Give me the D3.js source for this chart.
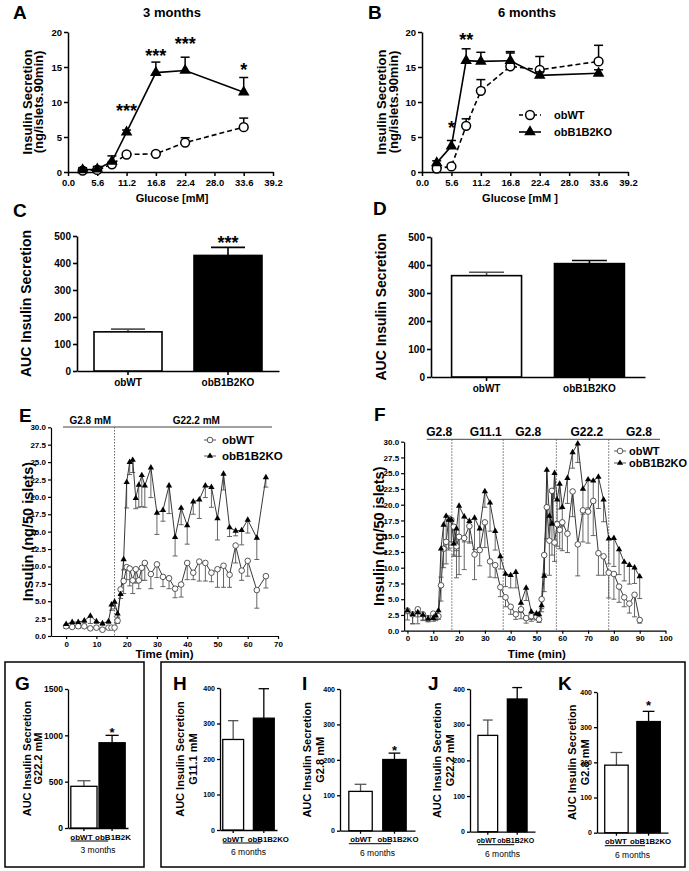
<!DOCTYPE html>
<html><head><meta charset="utf-8">
<script src="https://cdn.jsdelivr.net/npm/d3@7"></script>
<style>body{margin:0;background:#fff}svg{display:block}</style>
</head><body>
<svg id="c" width="689" height="871"></svg>
<script>
// ---------------- DATA ----------------
const glucose = [2.8, 5.6, 8.4, 11.2, 16.8, 22.4, 33.6];
const glucoseTicks = [0, 5.6, 11.2, 16.8, 22.4, 28.0, 33.6, 39.2];
const insulinTicks = [0, 5, 10, 15, 20];

const a_wt    = [0.2, 0.3, 1.1, 2.5, 2.6, 4.2, 6.4];
const a_wtErr = [0.2, 0.2, 0.3, 0.2, 0.2, 0.7, 1.3];
const a_ko    = [0.3, 0.4, 1.5, 5.7, 14.2, 14.5, 11.4];
const a_koErr = [0.3, 0.4, 0.8, 0.3, 1.5, 1.9, 2.1];
const a_starX = [11.2, 16.8, 22.4, 33.6];
const a_starLevel = [9.3, 17.2, 18.8, 15.1];
const a_starText = ["***", "***", "***", "*"];

const b_wt    = [0.5, 0.8, 6.6, 11.6, 15.1, 14.6, 15.8];
const b_wtErr = [0.2, 0.2, 1.0, 1.6, 1.9, 1.9, 2.3];
const b_ko    = [1.3, 3.7, 15.9, 15.8, 15.9, 13.8, 14.1];
const b_koErr = [0.3, 0.8, 1.7, 1.3, 1.3, 0.5, 0.5];
const b_starX = [5.6, 8.4];
const b_starLevel = [6.9, 19.4];
const b_starText = ["*", "**"];

const groups = ["obWT", "obB1B2KO"];
const aucTicks = [0, 100, 200, 300, 400, 500];
const c_auc = [145, 428]; const c_err = [10, 30];
const d_auc = [362, 405]; const d_err = [12, 11];

const e_time  = [0,2,4,6,8,10,12,14,15,16,17,18,19,20,21,22,23,24,25,26,28,30,32,34,36,38,40,42,44,46,48,50,52,54,56,58,60,63,66];
const e_ko    = [1.7,2.0,2.0,2.2,2.9,2.1,1.8,2.1,4.5,4.9,3.2,6.0,11.0,22.1,25.0,25.3,19.8,21.7,23.1,21.6,24.2,17.7,18.1,21.6,14.2,18.4,15.9,19.3,19.6,21.6,21.4,16.9,23.3,15.6,15.1,15.2,16.7,14.1,22.8];
const e_koErr = [0.3,0.3,0.3,0.3,1.1,0.3,0.3,0.3,0.8,1.0,0.5,0.6,1.5,3.7,1.8,1.8,1.5,3.2,4.5,3.1,4.3,3.1,1.6,4.0,2.7,2.4,2.7,1.8,2.7,1.7,2.9,3.1,2.3,1.3,0.7,2.1,1.9,3.1,1.4];
const e_wt    = [1.4,1.3,1.4,1.4,1.1,1.2,0.9,1.2,1.2,1.2,2.2,6.7,7.9,9.9,9.7,8.0,9.6,8.0,9.8,10.5,8.9,10.3,8.5,8.3,6.8,7.4,10.5,9.1,10.7,10.5,9.1,9.6,10.1,8.8,13.0,9.4,10.8,6.6,8.6];
const e_wtErr = [0.3,0.2,0.3,0.2,0.2,0.2,0.2,0.2,0.2,0.2,0.4,0.7,1.8,1.8,2.5,1.9,2.0,1.2,1.8,2.5,2.1,1.9,1.4,1.5,1.3,1.8,2.4,1.0,2.8,2.6,1.3,2.6,3.1,1.8,2.5,1.4,2.2,2.6,1.7];
const e_timeTicks = [0,10,20,30,40,50,60,70];
const e_switch = [16];
const e_phases = ["G2.8 mM", "G22.2 mM"];
const e_phaseMid = [8, 43];

const f_time  = [0,2,4,6,8,10,11,12,13,14,15,16,17,18,19,20,22,24,26,28,30,32,34,36,38,40,42,44,46,48,50,51,52,53,54,55,56,57,58,59,60,62,64,66,68,70,72,74,76,78,80,82,84,86,88,90];
const f_ko    = [3.2,2.6,2.9,2.5,1.9,2.0,2.4,3.2,13.0,16.8,18.2,17.6,17.6,13.8,16.2,19.8,18.1,17.4,17.9,16.2,22.1,20.3,15.8,11.8,9.0,8.8,9.3,4.4,6.8,3.0,2.7,2.6,4.0,8.7,25.5,18.2,17.0,25.0,20.8,23.3,19.6,24.2,28.3,29.7,22.5,24.0,23.8,24.4,20.8,14.6,14.7,12.9,10.9,10.4,10.0,8.6];
const f_koErr = [0.5,1.5,1.8,0.8,0.5,0.5,0.8,1.0,4.5,3.5,4.0,4.5,3.5,2.0,3.5,8.0,4.0,3.5,5.0,3.0,2.5,4.5,3.0,2.0,2.0,2.0,2.5,1.5,2.0,1.2,0.8,0.8,1.0,2.5,6.0,4.0,5.0,4.0,3.5,4.0,3.0,4.0,2.5,3.0,4.0,4.5,3.5,5.0,3.5,4.0,4.5,4.0,3.0,3.0,2.5,3.5];
const f_wt    = [3.2,2.6,3.4,2.6,2.0,2.7,2.3,2.3,7.2,13.0,14.1,17.8,17.6,16.5,13.4,14.9,14.7,16.6,12.1,12.8,17.2,11.0,10.4,6.9,5.3,3.8,2.6,3.4,2.0,2.3,2.2,1.8,5.0,12.0,19.6,14.3,22.2,14.0,16.9,16.0,17.2,15.4,22.1,13.7,19.1,18.9,20.6,12.3,11.8,9.2,9.0,7.0,5.3,4.3,5.7,1.7];
const f_wtErr = [1.5,1.5,1.2,1.0,0.5,0.8,0.5,0.5,2.5,3.0,3.5,5.0,4.0,4.5,5.0,6.0,5.0,2.5,4.0,2.5,4.0,2.5,2.0,1.5,1.5,1.2,0.8,1.5,0.8,0.8,0.5,0.5,1.5,3.0,5.0,5.5,5.5,3.0,3.5,3.0,4.5,3.0,4.0,5.0,5.0,5.0,5.5,3.5,3.0,4.0,4.0,2.5,1.5,1.5,3.5,0.5];
const f_timeTicks = [0,10,20,30,40,50,60,70,80,90,100];
const f_switch = [17.2, 37.1, 57.7, 78.0];
const f_phases = ["G2.8", "G11.1", "G2.8", "G22.2", "G2.8"];
const f_phaseMid = [12.3, 30.3, 46.8, 69.5, 89.7];
const timeInsulinTicks = [0,2.5,5,7.5,10,12.5,15,17.5,20,22.5,25,27.5,30];

const g_auc = [450, 920]; const g_err = [60, 80];
const h_auc = [255, 315]; const h_err = [53, 83];
const i_auc = [111, 201]; const i_err = [20, 18];
const j_auc = [270, 372]; const j_err = [43, 32];
const k_auc = [192, 316]; const k_err = [36, 29];
const gTicks = [0, 500, 1000, 1500];
const smallTicks = [0, 100, 200, 300, 400];

// ---------------- HELPERS ----------------
const FONT = '"Liberation Sans", Arial, Helvetica, sans-serif';
const svg = d3.select("#c").attr("font-family", FONT);

function styleAxis(g, fs, sw) {
  g.attr("font-family", FONT).attr("font-size", fs).attr("font-weight", "bold");
  g.select(".domain").attr("stroke", "#000").attr("stroke-width", sw);
  g.selectAll(".tick line").attr("stroke", "#000").attr("stroke-width", sw);
  g.selectAll(".tick text").attr("fill", "#000");
}
function txt(x, y, s, fs, opt = {}) {
  return svg.append("text").attr("x", x).attr("y", y)
    .attr("text-anchor", opt.anchor || "middle")
    .attr("font-size", fs).attr("font-weight", opt.weight || "bold")
    .attr("fill", "#000").text(s);
}
function rot(x, cy, s, fs) {
  svg.append("text").attr("transform", `translate(${x},${cy}) rotate(-90)`)
    .attr("text-anchor", "middle").attr("font-size", fs).attr("font-weight", "bold")
    .attr("fill", "#000").text(s);
}
function letter(x, y, s) { txt(x, y, s, 19, { anchor: "start" }); }

// ---------------- A / B ----------------
function glucosePanel(o) {
  const x = d3.scaleLinear().domain([0, 39.2]).range([o.left, o.right]);
  const y = d3.scaleLinear().domain([0, 20]).range([172, 32]);
  const g = svg.append("g");
  styleAxis(g.append("g").attr("transform", "translate(0,172)")
    .call(d3.axisBottom(x).tickValues(glucoseTicks).tickFormat(d3.format(".1f")).tickSize(4).tickSizeOuter(0).tickPadding(3)), 9.5, 1.5);
  styleAxis(g.append("g").attr("transform", `translate(${o.left},0)`)
    .call(d3.axisLeft(y).tickValues(insulinTicks).tickSize(4).tickSizeOuter(0).tickPadding(2)), 9.5, 1.5);

  const series = [
    { v: o.wt, e: o.wtErr, dash: "5,3", sym: "c" },
    { v: o.ko, e: o.koErr, dash: null, sym: "t" }
  ];
  series.forEach(s => {
    const pts = glucose.map((gx, i) => ({ x: gx, v: s.v[i], e: s.e[i] }));
    g.append("path").datum(pts).attr("fill", "none").attr("stroke", "#000").attr("stroke-width", 1.6)
      .attr("stroke-dasharray", s.dash).attr("d", d3.line().x(d => x(d.x)).y(d => y(d.v)));
    const eb = g.append("g").attr("stroke", "#000").attr("stroke-width", 1.5);
    pts.forEach(d => {
      eb.append("line").attr("x1", x(d.x)).attr("x2", x(d.x)).attr("y1", y(d.v)).attr("y2", y(d.v + d.e));
      eb.append("line").attr("x1", x(d.x) - 4.5).attr("x2", x(d.x) + 4.5).attr("y1", y(d.v + d.e)).attr("y2", y(d.v + d.e));
    });
    pts.forEach(d => {
      if (s.sym === "c") g.append("circle").attr("cx", x(d.x)).attr("cy", y(d.v)).attr("r", 4.4)
        .attr("fill", "#fff").attr("stroke", "#000").attr("stroke-width", 1.5);
      else g.append("path").attr("d", d3.symbol(d3.symbolTriangle, 58)()).attr("fill", "#000")
        .attr("transform", `translate(${x(d.x)},${y(d.v)})`);
    });
  });
  o.starX.forEach((sx, i) => txt(x(sx), y(o.starLevel[i]) + 10, o.starText[i], 18));
  txt(o.titleX, 17, o.title, 13);
  txt(o.xlabX, 202, o.xlab, 11);
  rot(o.yl1, 102, "Insulin Secretion", 13);
  rot(o.yl2, 102, "(ng/islets.90min)", 13);
}

glucosePanel({ left: 68, right: 273, wt: a_wt, wtErr: a_wtErr, ko: a_ko, koErr: a_koErr,
  starX: a_starX, starLevel: a_starLevel, starText: a_starText,
  title: "3 months", titleX: 172, xlab: "Glucose [mM]", xlabX: 172, yl1: 32, yl2: 43 });
glucosePanel({ left: 422, right: 628, wt: b_wt, wtErr: b_wtErr, ko: b_ko, koErr: b_koErr,
  starX: b_starX, starLevel: b_starLevel, starText: b_starText,
  title: "6 months", titleX: 527, xlab: "Glucose [mM ]", xlabX: 520, yl1: 386, yl2: 398 });

// legend B
(function () {
  const lg = svg.append("g");
  const rows = [{ y: 115, s: "c", dash: "4,3", t: groups[0] }, { y: 132, s: "t", dash: null, t: groups[1] }];
  rows.forEach(r => {
    lg.append("line").attr("x1", 519).attr("x2", 541).attr("y1", r.y).attr("y2", r.y)
      .attr("stroke", "#000").attr("stroke-width", 1.6).attr("stroke-dasharray", r.dash);
    if (r.s === "c") lg.append("circle").attr("cx", 530).attr("cy", r.y).attr("r", 4.4).attr("fill", "#fff").attr("stroke", "#000").attr("stroke-width", 1.5);
    else lg.append("path").attr("d", d3.symbol(d3.symbolTriangle, 58)()).attr("transform", `translate(530,${r.y})`).attr("fill", "#000");
    txt(554, r.y + 4, r.t, 11, { anchor: "start" });
  });
})();

letter(13, 19, "A"); letter(368, 19, "B");

// ---------------- bar panels ----------------
function barPanel(o) {
  const x = d3.scaleBand().domain(groups).range(o.xr).paddingInner(o.pi).paddingOuter(o.po);
  const y = d3.scaleLinear().domain([0, o.max]).range(o.yr);
  const g = svg.append("g");
  const bw = x.bandwidth();
  const labels = o.catLabels || groups;
  const xa = g.append("g").attr("transform", `translate(0,${o.yr[0]})`)
    .call(d3.axisBottom(x).tickSize(o.tick).tickSizeOuter(0).tickPadding(o.tpad).tickFormat((d, i) => labels[i]));
  styleAxis(xa, o.catFs, o.sw);
  if (o.catDx) xa.selectAll(".tick text").attr("dx", (d, i) => o.catDx[i]);
  const ya = g.append("g").attr("transform", `translate(${o.xr[0]},0)`)
    .call(d3.axisLeft(y).tickValues(o.ticks).tickFormat(d3.format("d")).tickSize(o.tick).tickSizeOuter(0).tickPadding(2));
  styleAxis(ya, o.tickFs, o.sw);
  groups.forEach((c, i) => {
    const cx = x(c) + bw / 2;
    g.append("line").attr("x1", cx).attr("x2", cx).attr("y1", y(o.vals[i])).attr("y2", y(o.vals[i] + o.errs[i]))
      .attr("stroke", i ? "#000" : "#555").attr("stroke-width", o.sw);
    g.append("line").attr("x1", cx - bw * 0.25).attr("x2", cx + bw * 0.25)
      .attr("y1", y(o.vals[i] + o.errs[i])).attr("y2", y(o.vals[i] + o.errs[i]))
      .attr("stroke", i ? "#000" : "#555").attr("stroke-width", o.sw);
    g.append("rect").attr("x", x(c)).attr("y", y(o.vals[i])).attr("width", bw)
      .attr("height", y(0) - y(o.vals[i])).attr("fill", i ? "#000" : "#fff")
      .attr("stroke", "#000").attr("stroke-width", o.sw);
  });
  if (o.star) txt(x(groups[1]) + bw / 2, y(o.star.level) + o.star.fs * 0.56, o.star.t, o.star.fs);
  o.ylab.forEach((l, i) => rot(o.ylx[i], (o.yr[0] + o.yr[1]) / 2, l, o.ylFs));
  if (o.group) {
    const gy = o.yr[0] + 13;
    g.append("line").attr("x1", x(groups[0])).attr("x2", x(groups[1]) + bw * 0.35)
      .attr("y1", gy).attr("y2", gy).attr("stroke", "#000").attr("stroke-width", 1);
    txt((x(groups[0]) + x(groups[1]) + bw) / 2, gy + 12, o.group, 8.5, { weight: "normal" });
  }
}

barPanel({ xr: [77, 279], pi: 0.32, po: 0.17, yr: [371, 236], max: 500, ticks: aucTicks,
  vals: c_auc, errs: c_err, tick: 4, tpad: 4, catFs: 10, tickFs: 10, sw: 1.6,
  star: { t: "***", level: 488, fs: 18 }, ylab: ["AUC Insulin Secretion"], ylx: [31], ylFs: 14 });
barPanel({ xr: [431, 645], pi: 0.32, po: 0.2, yr: [377, 237], max: 500, ticks: aucTicks,
  vals: d_auc, errs: d_err, tick: 4, tpad: 4, catFs: 10, tickFs: 10, sw: 1.6,
  ylab: ["AUC Insulin Secretion"], ylx: [386], ylFs: 14 });
letter(13, 217, "C"); letter(373, 215, "D");

// ---------------- E / F time courses ----------------
function timePanel(o) {
  const x = d3.scaleLinear().domain(o.xd).range(o.xr);
  const y = d3.scaleLinear().domain([0, 30]).range(o.yr);
  const g = svg.append("g");
  styleAxis(g.append("g").attr("transform", `translate(0,${o.yr[0]})`)
    .call(d3.axisBottom(x).tickValues(o.xt).tickSize(3).tickSizeOuter(0).tickPadding(2)), 8, 1.2);
  styleAxis(g.append("g").attr("transform", `translate(${o.xr[0]},0)`)
    .call(d3.axisLeft(y).tickValues(timeInsulinTicks).tickFormat(d3.format(".1f")).tickSize(3).tickSizeOuter(0).tickPadding(2)), 8, 1.2);
  g.append("line").attr("x1", o.hx[0]).attr("x2", o.hx[1]).attr("y1", o.hy).attr("y2", o.hy).attr("stroke", "#444").attr("stroke-width", 1);
  o.sw.forEach(s => g.append("line").attr("x1", x(s)).attr("x2", x(s)).attr("y1", o.hy).attr("y2", o.yr[0])
    .attr("stroke", "#555").attr("stroke-width", 0.9).attr("stroke-dasharray", "1.5,1.5"));
  o.phases.forEach((p, i) => txt(x(o.phaseMid[i]), o.hy - 3, p, o.phFs));
  const series = [
    { t: o.t, v: o.wt, e: o.wtErr, s: "c" },
    { t: o.t, v: o.ko, e: o.koErr, s: "t" }
  ];
  series.forEach(s => {
    const pts = s.t.map((tt, i) => ({ t: tt, v: s.v[i], e: s.e[i] }));
    const eb = g.append("g").attr("stroke", "#555").attr("stroke-width", 0.9);
    pts.forEach(d => {
      eb.append("line").attr("x1", x(d.t)).attr("x2", x(d.t)).attr("y1", y(d.v)).attr("y2", y(d.v - d.e));
      eb.append("line").attr("x1", x(d.t) - 2.5).attr("x2", x(d.t) + 2.5).attr("y1", y(d.v - d.e)).attr("y2", y(d.v - d.e));
    });
    g.append("path").datum(pts).attr("fill", "none").attr("stroke", "#222").attr("stroke-width", 0.9)
      .attr("d", d3.line().x(d => x(d.t)).y(d => y(d.v)));
  });
  series.forEach(s => {
    s.t.forEach((tt, i) => {
      if (s.s === "c") g.append("circle").attr("cx", x(tt)).attr("cy", y(s.v[i])).attr("r", 2.8)
        .attr("fill", "#fff").attr("stroke", "#444").attr("stroke-width", 0.9);
      else g.append("path").attr("d", d3.symbol(d3.symbolTriangle, 17)()).attr("fill", "#000")
        .attr("transform", `translate(${x(tt)},${y(s.v[i])})`);
    });
  });
  const rows = [{ y: o.lgY[0], s: "c", t: groups[0] }, { y: o.lgY[1], s: "t", t: groups[1] }];
  rows.forEach(r => {
    g.append("line").attr("x1", o.lgX - 6).attr("x2", o.lgX + 6).attr("y1", r.y).attr("y2", r.y).attr("stroke", "#444").attr("stroke-width", 0.9);
    if (r.s === "c") g.append("circle").attr("cx", o.lgX).attr("cy", r.y).attr("r", 2.8).attr("fill", "#fff").attr("stroke", "#444").attr("stroke-width", 0.9);
    else g.append("path").attr("d", d3.symbol(d3.symbolTriangle, 17)()).attr("transform", `translate(${o.lgX},${r.y})`).attr("fill", "#000");
    txt(o.lgX + o.lgGap, r.y + 4, r.t, o.lgFs, { anchor: "start" });
  });
  txt((o.xr[0] + o.xr[1]) / 2 + o.tOff, 658, "Time (min)", 11.5);
  rot(o.ylx, (o.yr[0] + o.yr[1]) / 2, "Insulin (ng/50 islets)", 14.5);
}

timePanel({ xd: [-5, 70], xr: [51, 278], yr: [636, 427.3], xt: e_timeTicks, t: e_time,
  wt: e_wt, wtErr: e_wtErr, ko: e_ko, koErr: e_koErr, sw: e_switch, phases: e_phases, phaseMid: e_phaseMid,
  hx: [63, 272], hy: 427, phFs: 10, lgX: 210, lgY: [440, 456], lgGap: 12, lgFs: 11.5, tOff: 0, ylx: 33 });
timePanel({ xd: [-1.3, 100], xr: [404.1, 665.5], yr: [630.7, 441.7], xt: f_timeTicks, t: f_time,
  wt: f_wt, wtErr: f_wtErr, ko: f_ko, koErr: f_koErr, sw: f_switch, phases: f_phases, phaseMid: f_phaseMid,
  hx: [426.7, 660], hy: 439.3, phFs: 12, lgX: 620, lgY: [451, 463], lgGap: 9, lgFs: 11, tOff: 2, ylx: 384 });
letter(19, 422, "E"); letter(374, 421, "F");

// ---------------- G - K ----------------
svg.append("rect").attr("x", 5).attr("y", 662).attr("width", 139).attr("height", 205)
  .attr("fill", "none").attr("stroke", "#000").attr("stroke-width", 1.5);
svg.append("rect").attr("x", 161).attr("y", 662).attr("width", 524).attr("height", 205)
  .attr("fill", "none").attr("stroke", "#000").attr("stroke-width", 1.5);

const smallBase = { tick: 3, tpad: 3, catFs: 7.8, tickFs: 7, sw: 1.3, ylFs: 11 };
barPanel(Object.assign({}, smallBase, { xr: [68, 128], pi: 0.07, po: 0.1, yr: [828, 689], max: 1500, ticks: gTicks,
  vals: g_auc, errs: g_err, catLabels: ["obWT", "obB1B2K"], catDx: [-2.5, 1], catFs: 8, tickFs: 8.5,
  star: { t: "*", level: 1058, fs: 13 },
  ylab: ["AUC Insulin Secretion", "G22.2 mM"], ylx: [31, 42], group: "3 months" }));
barPanel(Object.assign({}, smallBase, { xr: [220, 277], pi: 0.32, po: 0.09, yr: [830, 688], max: 400, ticks: smallTicks,
  vals: h_auc, errs: h_err, catDx: [0, 4.5], ylab: ["AUC Insulin Secretion", "G11.1 mM"], ylx: [184, 197], group: "6 months" }));
barPanel(Object.assign({}, smallBase, { xr: [340, 415], pi: 0.31, po: 0.26, yr: [830.7, 689], max: 400, ticks: smallTicks,
  vals: i_auc, errs: i_err, catDx: [0.5, 3.5], star: { t: "*", level: 235, fs: 13 },
  ylab: ["AUC Insulin Secretion", "G2.8 mM"], ylx: [311, 324], group: "6 months" }));
barPanel(Object.assign({}, smallBase, { xr: [470, 535], pi: 0.33, po: 0.27, yr: [831.7, 689], max: 400, ticks: smallTicks,
  vals: j_auc, errs: j_err, catDx: [-1.5, -1.5], catFs: 7,
  ylab: ["AUC Insulin Secretion", "G22.2 mM"], ylx: [441, 454], group: "6 months" }));
barPanel(Object.assign({}, smallBase, { xr: [597, 668], pi: 0.27, po: 0.24, yr: [832.7, 692], max: 400, ticks: smallTicks,
  vals: k_auc, errs: k_err, catDx: [-0.5, 2], star: { t: "*", level: 370, fs: 13 },
  ylab: ["AUC Insulin Secretion", "G2.8 mM"], ylx: [576, 589], group: "6 months" }));
letter(15, 690, "G"); letter(173, 690, "H"); letter(302, 690, "I"); letter(428, 690, "J"); letter(558, 690, "K");
</script>
</body></html>
